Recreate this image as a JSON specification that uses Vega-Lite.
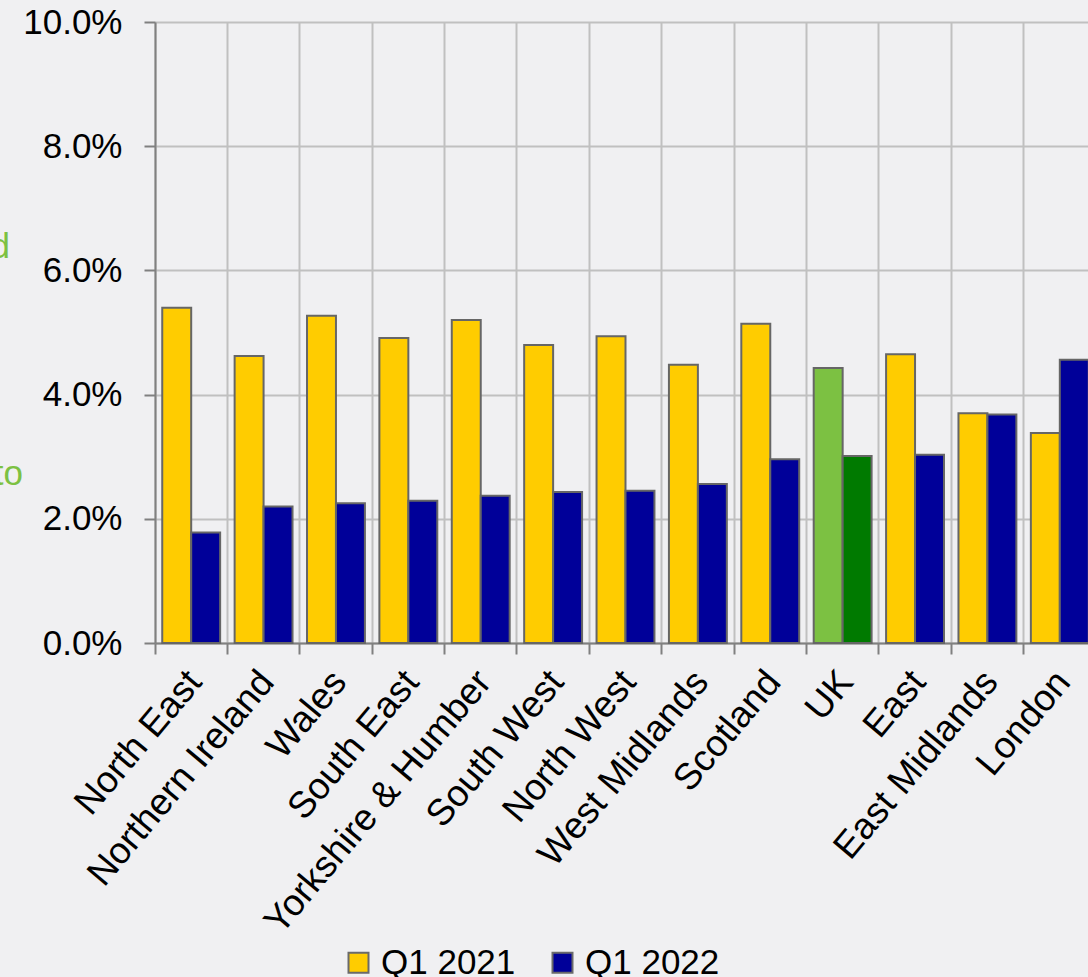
{
  "$schema": "https://vega.github.io/schema/vega-lite/v6.json",
  "width": 933,
  "height": 621,
  "autosize": {"type": "none"},
  "padding": {"left": 155, "top": 22, "right": 0, "bottom": 334},
  "background": "#F0F0F2",
  "config": {"view": {"stroke": null}, "font": "Liberation Sans"},
  "datasets": {
    "rates": [
      {"region": "North East", "period": "Q1 2021", "series": "Q1 2021", "rate": 0.0540},
      {"region": "North East", "period": "Q1 2022", "series": "Q1 2022", "rate": 0.0178},
      {"region": "Northern Ireland", "period": "Q1 2021", "series": "Q1 2021", "rate": 0.0462},
      {"region": "Northern Ireland", "period": "Q1 2022", "series": "Q1 2022", "rate": 0.0220},
      {"region": "Wales", "period": "Q1 2021", "series": "Q1 2021", "rate": 0.0527},
      {"region": "Wales", "period": "Q1 2022", "series": "Q1 2022", "rate": 0.0225},
      {"region": "South East", "period": "Q1 2021", "series": "Q1 2021", "rate": 0.0491},
      {"region": "South East", "period": "Q1 2022", "series": "Q1 2022", "rate": 0.0229},
      {"region": "Yorkshire & Humber", "period": "Q1 2021", "series": "Q1 2021", "rate": 0.0520},
      {"region": "Yorkshire & Humber", "period": "Q1 2022", "series": "Q1 2022", "rate": 0.0237},
      {"region": "South West", "period": "Q1 2021", "series": "Q1 2021", "rate": 0.0480},
      {"region": "South West", "period": "Q1 2022", "series": "Q1 2022", "rate": 0.0243},
      {"region": "North West", "period": "Q1 2021", "series": "Q1 2021", "rate": 0.0494},
      {"region": "North West", "period": "Q1 2022", "series": "Q1 2022", "rate": 0.0245},
      {"region": "West Midlands", "period": "Q1 2021", "series": "Q1 2021", "rate": 0.0448},
      {"region": "West Midlands", "period": "Q1 2022", "series": "Q1 2022", "rate": 0.0256},
      {"region": "Scotland", "period": "Q1 2021", "series": "Q1 2021", "rate": 0.0514},
      {"region": "Scotland", "period": "Q1 2022", "series": "Q1 2022", "rate": 0.0296},
      {"region": "UK", "period": "Q1 2021", "series": "UK Q1 2021", "rate": 0.0443},
      {"region": "UK", "period": "Q1 2022", "series": "UK Q1 2022", "rate": 0.0301},
      {"region": "East", "period": "Q1 2021", "series": "Q1 2021", "rate": 0.0465},
      {"region": "East", "period": "Q1 2022", "series": "Q1 2022", "rate": 0.0303},
      {"region": "East Midlands", "period": "Q1 2021", "series": "Q1 2021", "rate": 0.0370},
      {"region": "East Midlands", "period": "Q1 2022", "series": "Q1 2022", "rate": 0.0368},
      {"region": "London", "period": "Q1 2021", "series": "Q1 2021", "rate": 0.0338},
      {"region": "London", "period": "Q1 2022", "series": "Q1 2022", "rate": 0.0456}
    ],
    "noteUpper": [{"note": "d", "level": 0.0620}],
    "noteLower": [{"note": "to", "level": 0.0255}]
  },
  "layer": [
    {
      "data": {"name": "rates"},
      "mark": {"type": "bar", "stroke": "#666666", "strokeWidth": 2},
      "encoding": {
        "x": {
          "field": "region",
          "type": "nominal",
          "sort": ["North East", "Northern Ireland", "Wales", "South East", "Yorkshire & Humber", "South West", "North West", "West Midlands", "Scotland", "UK", "East", "East Midlands", "London"],
          "scale": {"range": [0, 941], "paddingInner": 0, "paddingOuter": 0},
          "axis": {
            "title": null,
            "bandPosition": 0,
            "grid": true,
            "gridColor": "#c0c0c0",
            "gridWidth": 2,
            "domainColor": "#808080",
            "domainWidth": 2,
            "tickColor": "#808080",
            "tickWidth": 2,
            "tickSize": 11,
            "labelAngle": -50,
            "labelAlign": "right",
            "labelBaseline": "top",
            "labelFontSize": 37,
            "labelColor": "#000000",
            "labelPadding": 10,
            "labelOffset": -10,
            "labelOverlap": false,
            "labelLimit": 0,
            "labelBound": false,
            "labelFlush": false
          }
        },
        "xOffset": {"field": "period", "scale": {"paddingInner": 0, "paddingOuter": 0.25}},
        "y": {
          "field": "rate",
          "type": "quantitative",
          "scale": {"domain": [0, 0.1], "nice": false},
          "axis": {
            "title": null,
            "values": [0, 0.02, 0.04, 0.06, 0.08, 0.1],
            "format": ".1%",
            "grid": true,
            "gridColor": "#c0c0c0",
            "gridWidth": 2,
            "domainColor": "#808080",
            "domainWidth": 2,
            "tickColor": "#808080",
            "tickWidth": 2,
            "tickSize": 11,
            "labelFontSize": 35,
            "labelColor": "#000000",
            "labelPadding": 22
          }
        },
        "color": {
          "field": "series",
          "type": "nominal",
          "scale": {
            "domain": ["Q1 2021", "Q1 2022", "UK Q1 2021", "UK Q1 2022"],
            "range": ["#FFCC00", "#000099", "#7CC142", "#007A00"]
          },
          "legend": {
            "orient": "none",
            "legendX": 186,
            "legendY": 923,
            "direction": "horizontal",
            "title": null,
            "values": ["Q1 2021", "Q1 2022"],
            "symbolType": "square",
            "symbolSize": 400,
            "symbolStrokeColor": "#6a6a6a",
            "symbolStrokeWidth": 2,
            "symbolOpacity": 1,
            "labelFontSize": 35,
            "labelColor": "#000000",
            "labelOffset": 5,
            "columnPadding": 29,
            "labelLimit": 0
          }
        }
      }
    },
    {
      "data": {"name": "noteUpper"},
      "mark": {"type": "text", "align": "right", "baseline": "alphabetic", "fontSize": 35, "color": "#7CC142", "dx": -145},
      "encoding": {
        "x": {"datum": "North East", "type": "nominal", "bandPosition": 0},
        "y": {"field": "level", "type": "quantitative"},
        "text": {"field": "note"}
      }
    },
    {
      "data": {"name": "noteLower"},
      "mark": {"type": "text", "align": "right", "baseline": "alphabetic", "fontSize": 35, "color": "#7CC142", "dx": -132},
      "encoding": {
        "x": {"datum": "North East", "type": "nominal", "bandPosition": 0},
        "y": {"field": "level", "type": "quantitative"},
        "text": {"field": "note"}
      }
    }
  ]
}
